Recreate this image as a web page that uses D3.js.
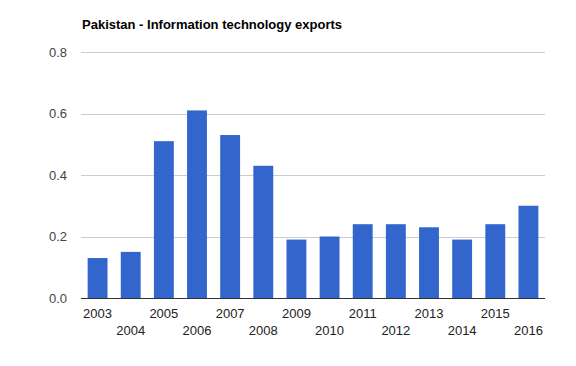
<!DOCTYPE html>
<html>
<head>
<meta charset="utf-8">
<script src="https://cdn.jsdelivr.net/npm/d3@7"></script>
<style>
  body { margin: 0; background: #fff; }
  svg { display: block; font-family: "Liberation Sans", Arial, sans-serif; }
</style>
</head>
<body>
<div id="chart"></div>
<script>
// Chart data.
var years = ['2003', '2004', '2005', '2006', '2007', '2008', '2009', '2010',
             '2011', '2012', '2013', '2014', '2015', '2016'];
var exportsValues = [0.13, 0.15, 0.51, 0.61, 0.53, 0.43, 0.19, 0.20,
                     0.24, 0.24, 0.23, 0.19, 0.24, 0.30];
var yTicks = [0, 0.2, 0.4, 0.6, 0.8];
var title = 'Pakistan - Information technology exports';

var width = 576, height = 366;
var margin = { top: 52, right: 31, bottom: 68, left: 81 };
var innerW = width - margin.left - margin.right;
var innerH = height - margin.top - margin.bottom;

var svg = d3.select('#chart').append('svg')
    .attr('width', width)
    .attr('height', height);

// Title.
svg.append('text')
    .attr('x', 82)
    .attr('y', 29)
    .attr('font-size', 13)
    .attr('font-weight', 'bold')
    .attr('fill', '#000')
    .text(title);

var g = svg.append('g')
    .attr('transform', 'translate(' + margin.left + ',' + margin.top + ')');

var x = d3.scaleBand()
    .domain(years)
    .range([0, innerW])
    .paddingInner(0.4)
    .paddingOuter(0.2);

var y = d3.scaleLinear()
    .domain([0, 0.8])
    .range([innerH, 0]);

// Gridlines.
g.selectAll('.grid')
    .data(yTicks.slice(1))
    .enter()
    .append('line')
    .attr('class', 'grid')
    .attr('x1', 0)
    .attr('x2', innerW)
    .attr('y1', d => Math.round(y(d)) + 0.5)
    .attr('y2', d => Math.round(y(d)) + 0.5)
    .attr('stroke', '#cccccc');

// Y axis labels.
g.selectAll('.ylab')
    .data(yTicks)
    .enter()
    .append('text')
    .attr('class', 'ylab')
    .attr('x', -14)
    .attr('y', d => y(d) + 4.5)
    .attr('text-anchor', 'end')
    .attr('font-size', 13)
    .attr('fill', '#444')
    .text(d => d.toFixed(1));

// Bars.
g.selectAll('.bar')
    .data(exportsValues)
    .enter()
    .append('rect')
    .attr('class', 'bar')
    .attr('x', (d, i) => x(years[i]))
    .attr('width', x.bandwidth())
    .attr('y', d => y(d))
    .attr('height', d => innerH - y(d))
    .attr('fill', '#3366cc');

// Baseline.
g.append('line')
    .attr('x1', 0)
    .attr('x2', innerW)
    .attr('y1', innerH + 0.5)
    .attr('y2', innerH + 0.5)
    .attr('stroke', '#333');

// X labels, staggered on two rows.
g.selectAll('.xlab')
    .data(years)
    .enter()
    .append('text')
    .attr('class', 'xlab')
    .attr('x', d => x(d) + x.bandwidth() / 2)
    .attr('y', (d, i) => innerH + (i % 2 === 0 ? 20 : 37))
    .attr('text-anchor', 'middle')
    .attr('font-size', 13)
    .attr('fill', '#222')
    .text(d => d);
</script>
</body>
</html>
